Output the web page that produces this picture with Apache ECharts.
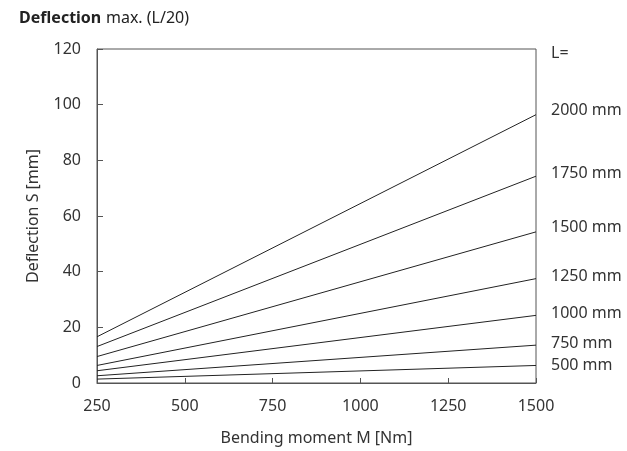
<!DOCTYPE html>
<html>
<head>
<meta charset="utf-8">
<script src="https://cdn.jsdelivr.net/npm/echarts@6/dist/echarts.min.js"></script>
<style>
  html, body { margin: 0; padding: 0; background: #fff; }
  #chart { width: 627px; height: 451px; }
</style>
</head>
<body>
<div id="chart"></div>
<script>
// 弯矩 (Nm)
const moments = [250, 1500];
// 各长度曲线
const lengths = ['500 mm', '750 mm', '1000 mm', '1250 mm', '1500 mm', '1750 mm', '2000 mm'];
const deflection500 = [1.4, 6.3];
const deflection750 = [2.6, 13.6];
const deflection1000 = [4.4, 24.3];
const deflection1250 = [6.3, 37.5];
const deflection1500 = [9.5, 54.3];
const deflection1750 = [13.1, 74.3];
const deflection2000 = [16.6, 96.4];
const xTicks = [250, 500, 750, 1000, 1250, 1500];

const seriesValues = [deflection500, deflection750, deflection1000, deflection1250,
    deflection1500, deflection1750, deflection2000];
// 标签微调
const labelShift = [0, -2, -2, -2, -4, -3, -4];

const fontFamily = '"Noto Sans", sans-serif';
const textColor = '#333';
const axisColor = '#555';
const fontSize = 16;

const chart = echarts.init(document.getElementById('chart'));

const option = {
    animation: false,
    textStyle: { fontFamily: fontFamily, color: textColor },
    title: {
        text: '{b|Deflection} {n|max. (L/20)}',
        left: 14,
        top: 4,
        textStyle: {
            rich: {
                b: { fontFamily: fontFamily, fontWeight: 'bold', fontSize: 16, color: '#222' },
                n: { fontFamily: fontFamily, fontWeight: 'normal', fontSize: 16, color: '#222' }
            }
        }
    },
    graphic: [{
        type: 'text',
        left: 551,
        top: 45,
        style: { text: 'L=', fontFamily: fontFamily, fontSize: fontSize, fill: textColor }
    }],
    grid: {
        left: 97, right: 91, top: 49, bottom: 65,
        show: true,
        borderColor: axisColor,
        borderWidth: 1
    },
    xAxis: {
        type: 'value',
        min: 250,
        max: 1500,
        interval: 250,
        name: 'Bending moment M [Nm]',
        nameLocation: 'middle',
        nameGap: 47,
        nameTextStyle: { fontSize: fontSize, color: textColor, fontFamily: fontFamily },
        axisLine: { lineStyle: { color: axisColor } },
        axisTick: { inside: true, length: 5, lineStyle: { color: axisColor } },
        axisLabel: { fontSize: fontSize, color: textColor, margin: 15,
            formatter: v => xTicks.includes(v) ? String(v) : '' },
        splitLine: { show: false }
    },
    yAxis: {
        type: 'value',
        min: 0,
        max: 120,
        interval: 20,
        name: 'Deflection S [mm]',
        nameLocation: 'middle',
        nameGap: 56,
        nameTextStyle: { fontSize: fontSize, color: textColor, fontFamily: fontFamily },
        axisLine: { show: true, lineStyle: { color: axisColor } },
        axisTick: { show: true, inside: true, length: 6, lineStyle: { color: axisColor } },
        axisLabel: { fontSize: fontSize, color: textColor, margin: 16 },
        splitLine: { show: false }
    },
    series: lengths.map((name, i) => ({
        name: name,
        type: 'line',
        data: moments.map((m, k) => [m, seriesValues[i][k]]),
        symbol: 'none',
        lineStyle: { color: '#222', width: 1 },
        endLabel: {
            show: true,
            formatter: '{a}',
            distance: 15,
            offset: [0, labelShift[i]],
            fontSize: fontSize,
            fontFamily: fontFamily,
            color: textColor
        }
    }))
};

chart.setOption(option);
</script>
</body>
</html>
